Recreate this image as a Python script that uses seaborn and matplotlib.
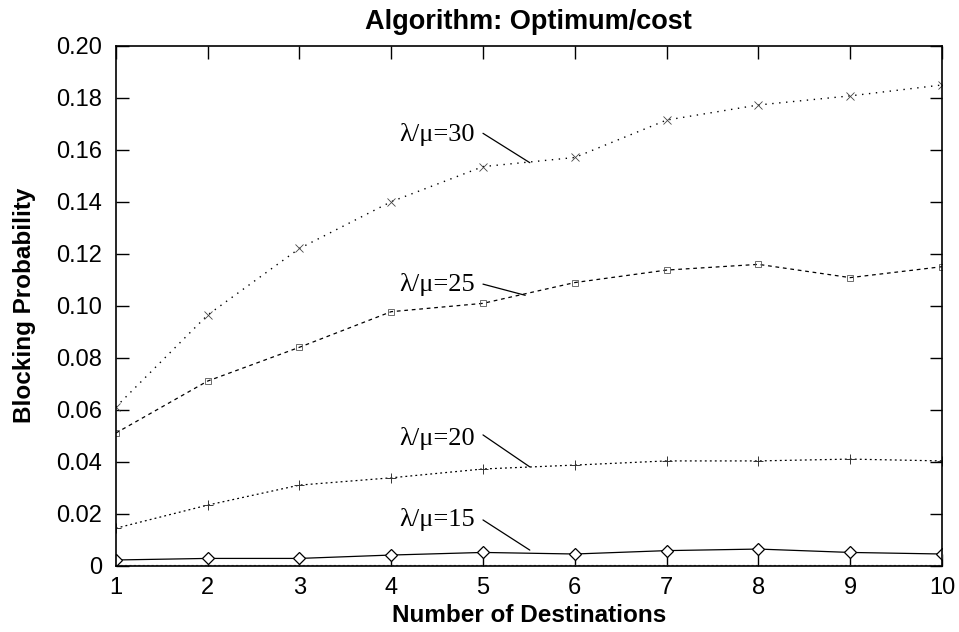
import matplotlib
matplotlib.use("Agg")
import matplotlib.pyplot as plt
import seaborn as sns
import pandas as pd

destinations = [1, 2, 3, 4, 5, 6, 7, 8, 9, 10]
load_30 = [0.061, 0.0964, 0.122, 0.140, 0.1535, 0.157, 0.1714, 0.1772, 0.1807, 0.1849]
load_25 = [0.051, 0.071, 0.084, 0.0977, 0.1009, 0.1089, 0.1137, 0.1159, 0.1108, 0.115]
load_20 = [0.0144, 0.0233, 0.031, 0.0338, 0.0372, 0.0387, 0.0403, 0.0403, 0.041, 0.0403]
load_15 = [0.0022, 0.0028, 0.0028, 0.0041, 0.0051, 0.0045, 0.0058, 0.0064, 0.0051, 0.0045]
load_10 = [0.0, 0.0, 0.0, 0.0, 0.0, 0.0, 0.0, 0.0, 0.0, 0.0]

labels = ["λ/μ=30", "λ/μ=25", "λ/μ=20", "λ/μ=15"]
# label text anchor (right end, centre), leader start, leader end
label_pos = [(4.91, 0.1657), (4.91, 0.108), (4.91, 0.0491), (4.91, 0.0176)]
leader_start = [(5.0, 0.1663), (5.0, 0.1083), (5.0, 0.0503), (5.0, 0.0176)]
leader_end = [(5.51, 0.155), (5.46, 0.104), (5.51, 0.038), (5.51, 0.006)]

sns.set_style("ticks")
plt.rcParams['font.family'] = ['Liberation Sans', 'DejaVu Sans']
plt.rcParams['text.color'] = 'black'
plt.rcParams['axes.labelcolor'] = 'black'
plt.rcParams['xtick.color'] = 'black'
plt.rcParams['ytick.color'] = 'black'

fig = plt.figure(figsize=(9.59, 6.32), dpi=100)
ax = fig.add_axes([0.1207, 0.1049, 0.8616, 0.8228])

df = pd.DataFrame({"x": destinations, "y10": load_10, "y15": load_15,
                   "y20": load_20, "y25": load_25, "y30": load_30})

sns.lineplot(data=df, x="x", y="y10", ax=ax, color="#888888", linestyle=(0, (1, 1)),
             linewidth=1.6, zorder=1)
sns.lineplot(data=df, x="x", y="y30", ax=ax, color="black", linestyle=(0, (1, 4)),
             linewidth=1.0, marker="x", markersize=6, markeredgewidth=0.6,
             markeredgecolor="#444444")
sns.lineplot(data=df, x="x", y="y25", ax=ax, color="black", linestyle=(0, (3, 3)),
             linewidth=0.9, marker="s", markersize=5, markerfacecolor="none",
             markeredgecolor="#555555", markeredgewidth=0.6)
sns.lineplot(data=df, x="x", y="y20", ax=ax, color="black", linestyle=(0, (1.5, 2.5)),
             linewidth=0.9, marker="+", markersize=7, markeredgewidth=0.7,
             markeredgecolor="#333333")
sns.lineplot(data=df, x="x", y="y15", ax=ax, color="black", linestyle="-",
             linewidth=0.9, marker="D", markersize=6, markerfacecolor="white",
             markeredgecolor="black", markeredgewidth=0.9)

for lab, tp, ls, le in zip(labels, label_pos, leader_start, leader_end):
    ax.text(tp[0], tp[1], lab, ha="right", va="center", fontsize=19, color="black",
            family=["Liberation Serif", "DejaVu Serif"])
    ax.plot([ls[0], le[0]], [ls[1], le[1]], color="black", linewidth=0.9)

ax.set_xlim(1, 10)
ax.set_ylim(0, 0.20)
ax.set_xticks(destinations)
ax.set_xticklabels([str(d) for d in destinations])
yt = [0, 0.02, 0.04, 0.06, 0.08, 0.10, 0.12, 0.14, 0.16, 0.18, 0.20]
ax.set_yticks(yt)
ax.set_yticklabels(["0"] + [f"{v:.2f}" for v in yt[1:]])
ax.tick_params(direction="in", length=9, width=1.0, labelsize=17,
               top=True, right=True, colors="black", labelcolor="black")
ax.tick_params(axis="x", pad=8)
ax.tick_params(axis="y", pad=10)
for s in ax.spines.values():
    s.set_linewidth(1.2)
    s.set_color("black")

ax.set_xlabel("Number of Destinations", fontsize=17.5, fontweight="bold",
              labelpad=4, color="black")
ax.set_ylabel("Blocking Probability", fontsize=17.5, fontweight="bold",
              labelpad=14, color="black")
ax.set_title("Algorithm: Optimum/cost", fontsize=19.5, fontweight="bold", pad=12,
             color="black")

fig.savefig("out.png", dpi=100)
